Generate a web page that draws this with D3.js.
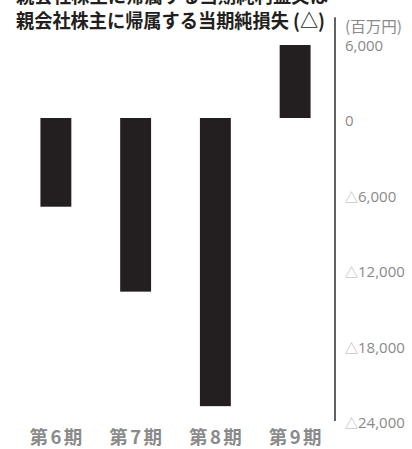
<!DOCTYPE html>
<html>
<head>
<meta charset="utf-8">
<script src="https://cdn.jsdelivr.net/npm/d3@7"></script>
<style>
  html, body { margin: 0; padding: 0; background: #fff; }
  svg { display: block; }
</style>
</head>
<body>
<svg id="chart" width="412" height="449"></svg>
<script>
// Net income attributable to owners of parent, by fiscal period (millions of yen)
const periods = ["第6期", "第7期", "第8期", "第9期"];
const netIncome = [-7050, -13800, -22900, 5800];
const tickValues = [6000, 0, -6000, -12000, -18000, -24000];
const titleLines = ["親会社株主に帰属する当期純利益又は", "親会社株主に帰属する当期純損失 (△)"];
const unitLabel = "(百万円)";

const svg = d3.select("#chart");
const ink = "#231f20";
const grey = "#8a8a8a";

const x = d3.scaleBand()
  .domain(periods)
  .range([16, 335])
  .paddingInner(0.6125)
  .paddingOuter(0.30625);

const y = d3.scaleLinear()
  .domain([-24000, 6000])
  .range([420, 42.5]);

// Bars grow from zero in either direction
svg.append("g")
  .selectAll("rect")
  .data(netIncome)
  .join("rect")
  .attr("x", (d, i) => x(periods[i]))
  .attr("width", x.bandwidth())
  .attr("y", d => y(Math.max(0, d)))
  .attr("height", d => Math.abs(y(d) - y(0)))
  .attr("fill", ink);

// Vertical axis rule
svg.append("line")
  .attr("x1", 335).attr("x2", 335)
  .attr("y1", y(8000)).attr("y2", y(-24000) + 1)
  .attr("stroke", ink)
  .attr("stroke-width", 1.4);

// Tick labels to the right of the rule; losses are marked with △
const fmt = d3.format(",");
const ticks = svg.append("g")
  .attr("font-family", "'Open Sans', 'Noto Sans', sans-serif")
  .attr("font-size", 15)
  .attr("fill", grey)
  .selectAll("text")
  .data(tickValues)
  .join("text")
  .attr("x", 345)
  .attr("y", d => y(d) + 2)
  .attr("dominant-baseline", "central");
ticks.filter(d => d < 0).append("tspan")
  .attr("font-family", "'Noto Sans CJK JP', sans-serif")
  .attr("font-size", 13)
  .attr("fill", "#b0b0b0")
  .text("△");
ticks.append("tspan").text(d => fmt(Math.abs(d)));

// Unit label
svg.append("text")
  .attr("x", 345)
  .attr("y", 32)
  .attr("font-family", "'Noto Sans CJK JP', sans-serif")
  .attr("font-size", 15)
  .attr("fill", grey)
  .attr("textLength", 57)
  .attr("lengthAdjust", "spacingAndGlyphs")
  .text(unitLabel);

// Period labels under the bars
svg.append("g")
  .attr("font-family", "'Noto Sans CJK JP', sans-serif")
  .attr("font-weight", "bold")
  .attr("font-size", 18.5)
  .attr("fill", grey)
  .attr("text-anchor", "middle")
  .selectAll("text")
  .data(periods)
  .join("text")
  .attr("x", d => x(d) + x.bandwidth() / 2)
  .attr("y", 444)
  .attr("textLength", 53)
  .attr("lengthAdjust", "spacing")
  .text(d => d);

// Two-line title
const titleWidths = [312, 309];
svg.append("g")
  .attr("font-family", "'Noto Sans CJK JP', sans-serif")
  .attr("font-weight", "bold")
  .attr("font-size", 19)
  .attr("fill", ink)
  .selectAll("text")
  .data(titleLines)
  .join("text")
  .attr("x", 16)
  .attr("y", (d, i) => 3 + i * 25)
  .attr("textLength", (d, i) => titleWidths[i])
  .attr("lengthAdjust", "spacingAndGlyphs")
  .text(d => d);
</script>
</body>
</html>
